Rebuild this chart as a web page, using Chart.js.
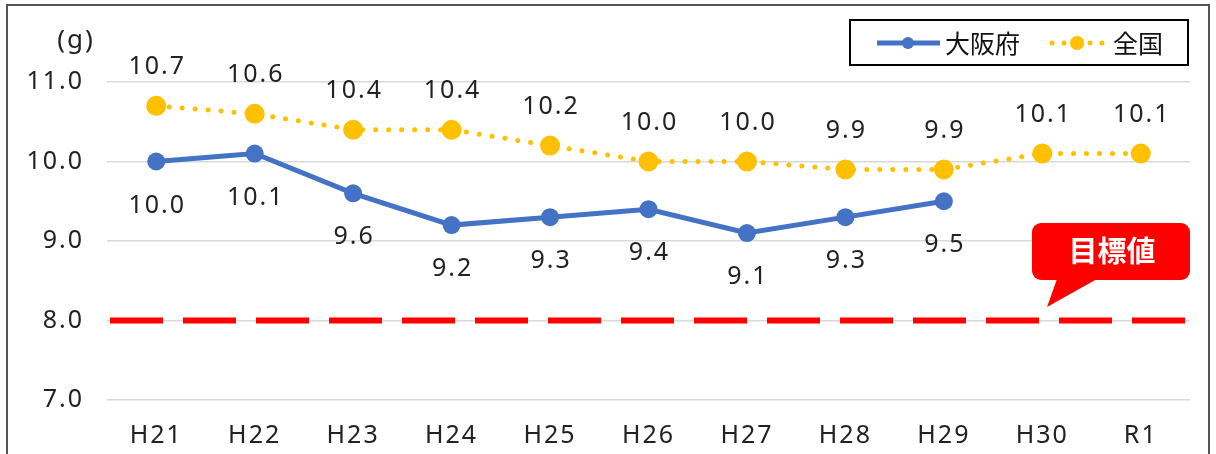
<!DOCTYPE html>
<html lang="ja">
<head>
<meta charset="UTF-8">
<title>食塩摂取量の推移</title>
<script src="https://cdn.jsdelivr.net/npm/chart.js"></script>
<style>
  html, body { margin: 0; padding: 0; background: #fff; }
  #frame {
    position: absolute; left: 6px; top: 4px; width: 1204px; height: 460px;
    border: 2px solid #555; box-sizing: border-box;
  }
  #wrap { position: absolute; left: 0; top: 0; width: 1216px; height: 454px; }
</style>
</head>
<body>
<div id="frame"></div>
<div id="wrap"><canvas id="chart" width="1216" height="454"></canvas></div>
<script>
// 年度
var years = ['H21', 'H22', 'H23', 'H24', 'H25', 'H26', 'H27', 'H28', 'H29', 'H30', 'R1'];
// 大阪府 (g)
var osaka = [10.0, 10.1, 9.6, 9.2, 9.3, 9.4, 9.1, 9.3, 9.5, null, null];
// 全国 (g)
var zenkoku = [10.7, 10.6, 10.4, 10.4, 10.2, 10.0, 10.0, 9.9, 9.9, 10.1, 10.1];
// 目標値
var target = 8.0;
// 目盛
var yTicks = [7.0, 8.0, 9.0, 10.0, 11.0];

var FONT = '"Noto Sans", sans-serif';
var JFONT = '"Noto Sans CJK JP", sans-serif';
var BLUE = '#4472C4';
var YELLOW = '#FFC000';

// 数字は字間を少し広げる
var spacing = {
  id: 'spacing',
  beforeDraw: function (chart) { chart.ctx.letterSpacing = '2px'; }
};

// 目標値の赤い破線
var targetLine = {
  id: 'targetLine',
  beforeDatasetsDraw: function (chart) {
    var ctx = chart.ctx, a = chart.chartArea;
    var y = chart.scales.y.getPixelForValue(target);
    ctx.save();
    ctx.strokeStyle = '#FF0000';
    ctx.lineWidth = 6;
    ctx.setLineDash([53, 20]);
    ctx.beginPath();
    ctx.moveTo(a.left + 3, y);
    ctx.lineTo(a.right, y);
    ctx.stroke();
    ctx.restore();
  }
};

// 数値ラベル・凡例・吹き出し
var extras = {
  id: 'extras',
  afterDatasetsDraw: function (chart) {
    var ctx = chart.ctx;
    ctx.save();
    ctx.font = '25px ' + FONT;
    ctx.fillStyle = '#222';
    ctx.textAlign = 'center';
    ctx.textBaseline = 'middle';
    chart.getDatasetMeta(0).data.forEach(function (p, i) {
      if (osaka[i] == null) return;
      ctx.fillText(osaka[i].toFixed(1), p.x + 1, p.y + 44);
    });
    chart.getDatasetMeta(1).data.forEach(function (p, i) {
      ctx.fillText(zenkoku[i].toFixed(1), p.x + 1, p.y - 39);
    });

    // 単位
    ctx.font = '26px ' + FONT;
    ctx.fillText('(g)', 76, 41);

    // 凡例
    ctx.letterSpacing = '0px';
    ctx.strokeStyle = '#000';
    ctx.lineWidth = 2;
    ctx.strokeRect(850, 20, 338, 45);
    ctx.strokeStyle = BLUE;
    ctx.lineWidth = 5;
    ctx.beginPath(); ctx.moveTo(877, 43); ctx.lineTo(940, 43); ctx.stroke();
    ctx.fillStyle = BLUE;
    ctx.beginPath(); ctx.arc(908, 43, 6, 0, Math.PI * 2); ctx.fill();
    ctx.fillStyle = YELLOW;
    [1052, 1064, 1090, 1102].forEach(function (x) {
      ctx.beginPath(); ctx.arc(x, 43, 2.5, 0, Math.PI * 2); ctx.fill();
    });
    ctx.beginPath(); ctx.arc(1077, 43, 7, 0, Math.PI * 2); ctx.fill();
    ctx.fillStyle = '#111';
    ctx.textAlign = 'left';
    ctx.font = '25px ' + JFONT;
    ctx.fillText('大阪府', 945, 43);
    ctx.fillText('全国', 1113, 43);

    // 吹き出し
    ctx.fillStyle = '#FF0000';
    ctx.beginPath();
    ctx.roundRect(1032, 223, 158, 57, 9);
    ctx.fill();
    ctx.beginPath();
    ctx.moveTo(1057, 279); ctx.lineTo(1047, 307); ctx.lineTo(1097, 279);
    ctx.closePath(); ctx.fill();
    ctx.fillStyle = '#fff';
    ctx.font = 'bold 29px ' + JFONT;
    ctx.textAlign = 'center';
    ctx.fillText('目標値', 1112, 251);
    ctx.restore();
  }
};

new Chart(document.getElementById('chart'), {
  type: 'line',
  data: {
    labels: years,
    datasets: [{
      label: '大阪府',
      data: osaka,
      borderColor: BLUE,
      backgroundColor: BLUE,
      borderWidth: 5,
      pointRadius: 9,
      pointHoverRadius: 9,
      pointBorderWidth: 0,
      spanGaps: false,
      order: 1
    }, {
      label: '全国',
      data: zenkoku,
      borderColor: YELLOW,
      backgroundColor: YELLOW,
      borderWidth: 5,
      borderDash: [0, 13],
      borderCapStyle: 'round',
      pointRadius: 10,
      pointHoverRadius: 10,
      pointBorderWidth: 0,
      order: 2
    }]
  },
  options: {
    responsive: false,
    animation: false,
    layout: { padding: { left: 0, right: 26, top: 82, bottom: 0 } },
    plugins: { legend: { display: false }, tooltip: { enabled: false } },
    scales: {
      x: {
        offset: true,
        grid: { display: false },
        border: { display: false },
        ticks: { color: '#222', font: { family: FONT, size: 25 }, padding: 13 },
        afterFit: function (s) { s.height = 54; }
      },
      y: {
        min: 7, max: 11,
        afterBuildTicks: function (s) { s.ticks = yTicks.map(function (v) { return { value: v }; }); },
        grid: { color: '#d9d9d9', lineWidth: 1.5, drawTicks: false },
        border: { display: false },
        ticks: {
          color: '#222', font: { family: FONT, size: 25 }, padding: 23,
          callback: function (v) { return v.toFixed(1); }
        },
        afterFit: function (s) { s.width = 107; }
      }
    }
  },
  plugins: [spacing, targetLine, extras]
});
</script>
</body>
</html>
